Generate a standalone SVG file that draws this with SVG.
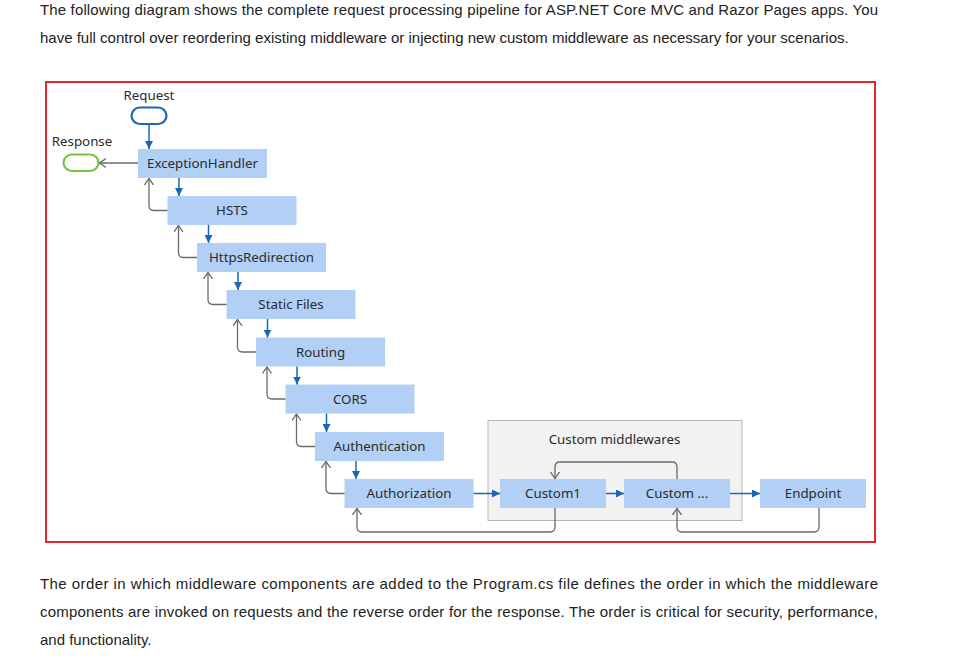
<svg xmlns="http://www.w3.org/2000/svg" width="953" height="671" viewBox="0 0 953 671">
<defs>
<style>
.body{font-family:"Liberation Sans",Arial,sans-serif;font-size:15px;fill:#222}
.box{fill:#b2d0f6}
.lbl{font-family:"Noto Sans","Open Sans",sans-serif;font-size:13.3px;fill:#2b2b2b;text-anchor:middle}
.blue{stroke:#1a66b5;stroke-width:1.5;fill:none}
.gray{stroke:#6a6a6a;stroke-width:1.3;fill:none}
</style>
<marker id="ab" viewBox="0 0 8 8" refX="8" refY="4" markerWidth="8" markerHeight="8" orient="auto" markerUnits="userSpaceOnUse"><path d="M0,0 L8,4 L0,8 z" fill="#1a66b5"/></marker>
<marker id="ag" viewBox="0 0 7 10" refX="7" refY="5" markerWidth="7" markerHeight="10" orient="auto" markerUnits="userSpaceOnUse"><path d="M0,0.5 L6.5,5 L0,9.5" fill="none" stroke="#6a6a6a" stroke-width="1.3"/></marker>
</defs>
<rect width="953" height="671" fill="#ffffff"/>
<text class="body" x="40" y="15" textLength="838" lengthAdjust="spacing">The following diagram shows the complete request processing pipeline for ASP.NET Core MVC and Razor Pages apps. You</text>
<text class="body" x="40" y="43">have full control over reordering existing middleware or injecting new custom middleware as necessary for your scenarios.</text>
<rect x="46" y="82" width="829" height="460" fill="none" stroke="#e3262b" stroke-width="2"/>
<g id="custom-middlewares">
<rect x="488" y="420.5" width="254" height="100" fill="#f2f2f2" stroke="#b5b5b5" stroke-width="1"/>
<text class="lbl" x="614.5" y="444">Custom middlewares</text>
</g>
<g id="request">
<text class="lbl" x="149" y="100">Request</text>
<rect x="131.5" y="107.5" width="35" height="16.5" rx="8.25" fill="#fff" stroke="#1a66b5" stroke-width="2.2"/>
</g>
<g id="response">
<text class="lbl" x="82" y="146">Response</text>
<rect x="63.5" y="154.5" width="35" height="16.5" rx="8.25" fill="#fff" stroke="#7cc242" stroke-width="2.2"/>
</g>
<g id="exceptionhandler"><rect class="box" x="138" y="149" width="129" height="29"/><text class="lbl" x="202.5" y="168">ExceptionHandler</text></g>
<g id="hsts"><rect class="box" x="167.5" y="196" width="129" height="29"/><text class="lbl" x="232" y="215">HSTS</text></g>
<g id="httpsredirection"><rect class="box" x="197" y="243" width="129" height="29"/><text class="lbl" x="261.5" y="262">HttpsRedirection</text></g>
<g id="staticfiles"><rect class="box" x="226.5" y="290" width="129" height="29"/><text class="lbl" x="291" y="309">Static Files</text></g>
<g id="routing"><rect class="box" x="256" y="337.5" width="129" height="29"/><text class="lbl" x="320.5" y="356.5">Routing</text></g>
<g id="cors"><rect class="box" x="285.5" y="384.5" width="129" height="29"/><text class="lbl" x="350" y="403.5">CORS</text></g>
<g id="authentication"><rect class="box" x="315" y="432" width="129" height="29"/><text class="lbl" x="379.5" y="451">Authentication</text></g>
<g id="authorization"><rect class="box" x="344.5" y="479" width="129" height="29"/><text class="lbl" x="409" y="498">Authorization</text></g>
<g id="custom1"><rect class="box" x="500" y="479" width="106" height="29"/><text class="lbl" x="553" y="498">Custom1</text></g>
<g id="customdots"><rect class="box" x="624" y="479" width="106" height="29"/><text class="lbl" x="677" y="498">Custom ...</text></g>
<g id="endpoint"><rect class="box" x="760" y="479" width="106" height="29"/><text class="lbl" x="813" y="498">Endpoint</text></g>
<g id="connectors">
<path class="blue" d="M149,124 V149" marker-end="url(#ab)"/>
<path class="gray" d="M138,163 H99" marker-end="url(#ag)"/>
<path class="blue" d="M179,178 V196" marker-end="url(#ab)"/>
<path class="blue" d="M208.5,225 V243" marker-end="url(#ab)"/>
<path class="blue" d="M238,272 V290" marker-end="url(#ab)"/>
<path class="blue" d="M267.5,319 V337.5" marker-end="url(#ab)"/>
<path class="blue" d="M297,366.5 V384.5" marker-end="url(#ab)"/>
<path class="blue" d="M326.5,413.5 V432" marker-end="url(#ab)"/>
<path class="blue" d="M356,461 V479" marker-end="url(#ab)"/>
<path class="gray" d="M167.5,210.5 H154 Q149,210.5 149,205.5 V178" marker-end="url(#ag)"/>
<path class="gray" d="M197,257.5 H183.5 Q178.5,257.5 178.5,252.5 V225" marker-end="url(#ag)"/>
<path class="gray" d="M226.5,304.5 H213 Q208,304.5 208,299.5 V272" marker-end="url(#ag)"/>
<path class="gray" d="M256,352 H242.5 Q237.5,352 237.5,347 V319" marker-end="url(#ag)"/>
<path class="gray" d="M285.5,399 H272 Q267,399 267,394 V366.5" marker-end="url(#ag)"/>
<path class="gray" d="M315,446.5 H301.5 Q296.5,446.5 296.5,441.5 V413.5" marker-end="url(#ag)"/>
<path class="gray" d="M344.5,493.5 H331 Q326,493.5 326,488.5 V461" marker-end="url(#ag)"/>
<path class="blue" d="M473.5,493.5 H500" marker-end="url(#ab)"/>
<path class="blue" d="M606,493.5 H624" marker-end="url(#ab)"/>
<path class="blue" d="M730,493.5 H760" marker-end="url(#ab)"/>
<path class="gray" d="M677,479 V467 Q677,462 672,462 H560 Q555,462 555,467 V479" marker-end="url(#ag)"/>
<path class="gray" d="M555,508 V527 Q555,532 550,532 H362 Q357,532 357,527 V508" marker-end="url(#ag)"/>
<path class="gray" d="M819,508 V527 Q819,532 814,532 H682 Q677,532 677,527 V508" marker-end="url(#ag)"/>
</g>
<text class="body" x="40" y="589" textLength="838" lengthAdjust="spacing">The order in which middleware components are added to the Program.cs file defines the order in which the middleware</text>
<text class="body" x="40" y="617" textLength="838" lengthAdjust="spacing">components are invoked on requests and the reverse order for the response. The order is critical for security, performance,</text>
<text class="body" x="40" y="645">and functionality.</text>
</svg>
